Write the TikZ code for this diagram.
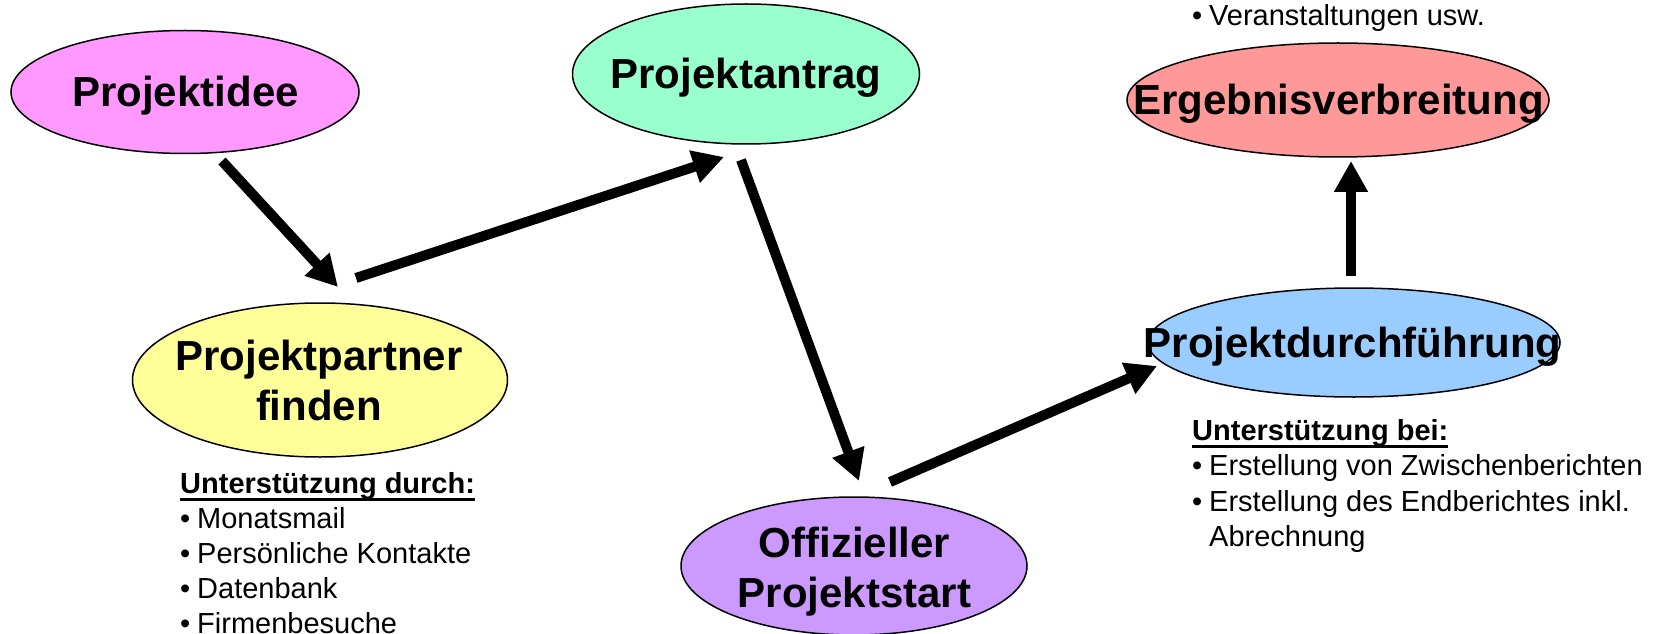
\documentclass[tikz,border=0pt]{standalone}
\usepackage{fontspec}
\setmainfont{Liberation Sans}
\usetikzlibrary{shapes.geometric,arrows.meta}
\definecolor{cidee}{HTML}{FF99FF}
\definecolor{cantrag}{HTML}{99FFCC}
\definecolor{cpartner}{HTML}{FFFF99}
\definecolor{cstart}{HTML}{CC99FF}
\definecolor{cdurch}{HTML}{99CCFF}
\definecolor{cergebnis}{HTML}{FF9999}
\newcommand\myul[1]{\sbox0{#1}\rlap{\rule[-8bp]{\wd0}{3bp}}\usebox0}
\newcommand\bul{\makebox[17bp][l]{\textbullet}}
\begin{document}
\begin{tikzpicture}[x=1bp,y=-1bp,
  stage/.style={ellipse, draw=black, line width=1.5bp, inner sep=0pt},
  title/.style={font=\fontsize{42bp}{50bp}\selectfont\bfseries, inner sep=0pt, anchor=base},
  note/.style={font=\fontsize{29bp}{35bp}\selectfont, inner sep=0pt, anchor=base west},
  flow/.style={line width=10bp, -{Triangle[length=31bp,width=32bp]}}]
\useasboundingbox (0,0) rectangle (1655,634);
\clip (0,0) rectangle (1655,634);

% stages
\node[stage, fill=cidee, minimum width=348bp, minimum height=123bp] (idee) at (185,92) {};
\node[stage, fill=cantrag, minimum width=347bp, minimum height=140bp] (antrag) at (746,74) {};
\node[stage, fill=cpartner, minimum width=375bp, minimum height=154bp] (partner) at (320,380) {};
\node[stage, fill=cstart, minimum width=346bp, minimum height=138bp] (start) at (854,566) {};
\node[stage, fill=cdurch, minimum width=412bp, minimum height=109bp] (durch) at (1354,342.5) {};
\node[stage, fill=cergebnis, minimum width=422bp, minimum height=114bp] (ergebnis) at (1338,100) {};

% stage titles
\node[title] (ideeT) at (185.5,107) {Projektidee};
\node[title] (antragT) at (746,89) {Projektantrag};
\node[title] (partnerT) at (319,370) {\begin{tabular}[t]{@{}c@{}}Projektpartner\\finden\end{tabular}};
\node[title] (startT) at (854.5,557) {\begin{tabular}[t]{@{}c@{}}Offizieller\\Projektstart\end{tabular}};
\node[title] (durchT) at (1352.5,357) {Projektdurchführung};
\node[title] (ergebnisT) at (1338.5,115) {Ergebnisverbreitung};

% notes
\node[note] (partnerN) at (180,493) {\begin{tabular}[t]{@{}l@{}}\myul{\bfseries Unterstützung durch:}\\
  \bul Monatsmail\\ \bul Persönliche Kontakte\\ \bul Datenbank\\ \bul Firmenbesuche\end{tabular}};
\node[note, font=\fontsize{29bp}{35.6bp}\selectfont] (durchN) at (1192,440) {\begin{tabular}[t]{@{}l@{}}\myul{\bfseries Unterstützung bei:}\\
  \bul Erstellung von Zwischenberichten\\ \bul Erstellung des Endberichtes inkl.\\ \hspace*{17bp}Abrechnung\end{tabular}};
\node[note] (ergebnisN) at (1192,26) {\bul Veranstaltungen usw.};

% connector ends
\coordinate (ideeOut) at (222,161);
\coordinate (partnerIn) at (338,287);
\coordinate (partnerOut) at (356,278);
\coordinate (antragIn) at (724,157);
\coordinate (antragOut) at (741,160);
\coordinate (startIn) at (859,481);
\coordinate (startOut) at (890,482);
\coordinate (durchIn) at (1157,366);
\coordinate (durchOut) at (1351,276);
\coordinate (ergebnisIn) at (1351,161);

\draw[flow] (ideeOut) -- (partnerIn);
\draw[flow] (partnerOut) -- (antragIn);
\draw[flow] (antragOut) -- (startIn);
\draw[flow] (startOut) -- (durchIn);
\draw[flow] (durchOut) -- (ergebnisIn);
\end{tikzpicture}
\end{document}
